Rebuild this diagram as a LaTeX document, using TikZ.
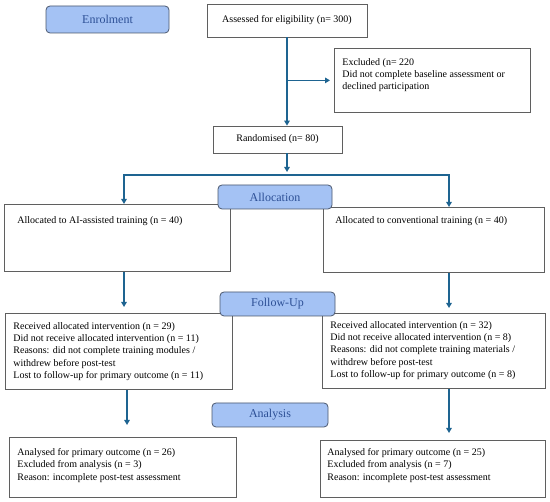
\documentclass[tikz,border=0pt]{standalone}
\usepackage{fontspec}
\setmainfont{Liberation Serif}
\usetikzlibrary{arrows.meta}
\definecolor{arr}{RGB}{30,100,145}
\definecolor{hfill}{RGB}{164,194,244}
\definecolor{hdraw}{RGB}{75,88,110}
\definecolor{htext}{RGB}{45,80,150}
\definecolor{bdraw}{RGB}{95,95,95}
\newcommand{\boxtext}[5]{\parbox[c][#2pt][t]{#1pt}{\leftskip=#3pt\rightskip=0pt plus 1fil\parindent=0pt\vspace*{#4pt}#5\par}}
\begin{document}
\begin{tikzpicture}[x=1pt,y=-1pt,
  every node/.style={font=\fontsize{10}{12.3}\selectfont},
  tbox/.style={draw=bdraw, line width=0.8pt, anchor=north west, inner sep=0pt, fill=white},
  cbox/.style={draw=bdraw, line width=0.8pt, inner sep=0pt, fill=white, align=center},
  head/.style={draw=hdraw, line width=0.8pt, fill=hfill, rounded corners=4pt, text=htext, font=\fontsize{12}{14}\selectfont, inner sep=0pt},
  tip/.style={-{Triangle[length=5pt,width=5.5pt]}},
  link/.style={draw=arr, line width=1.4pt}]
\useasboundingbox[fill=white] (0,0) rectangle (550,502);

% boxes
\node[cbox, minimum width=160, minimum height=33] (assess) at (287,20.5) {Assessed for eligibility (n= 300)};
\node[tbox] (excl) at (334,48) {\boxtext{196}{64}{8}{10}{Excluded (n= 220\\Did not complete baseline assessment or\\declined participation}};
\node[cbox, minimum width=129, minimum height=27] (rand) at (277.5,139.5) {Randomised (n= 80)};
\node[tbox] (allocL) at (4,204) {\boxtext{226}{67}{13}{12}{Allocated to AI-assisted training (n = 40)}};
\node[tbox] (allocR) at (323,207) {\boxtext{221}{65}{12}{9}{Allocated to conventional training (n = 40)}};
\node[tbox] (fuL) at (5,313) {\boxtext{227}{76}{8}{9}{Received allocated intervention (n = 29)\\Did not receive allocated intervention (n = 11)\\Reasons: did not complete training modules /\\withdrew before post-test\\Lost to follow-up for primary outcome (n = 11)}};
\node[tbox] (fuR) at (322,313) {\boxtext{223}{75}{8}{8}{Received allocated intervention (n = 32)\\Did not receive allocated intervention (n = 8)\\Reasons: did not complete training materials /\\withdrew before post-test\\Lost to follow-up for primary outcome (n = 8)}};
\node[tbox] (anL) at (9,437) {\boxtext{227}{60}{8}{11}{Analysed for primary outcome (n = 26)\\Excluded from analysis (n = 3)\\Reason: incomplete post-test assessment}};
\node[tbox] (anR) at (320,440) {\boxtext{225}{57}{7}{8}{Analysed for primary outcome (n = 25)\\Excluded from analysis (n = 7)\\Reason: incomplete post-test assessment}};

% headings
\node[head, minimum width=123, minimum height=27] (enrol) at (107.5,19.5) {Enrolment};
\node[head, minimum width=114, minimum height=24] (allocation) at (275,197) {Allocation};
\node[head, minimum width=115, minimum height=24] (follow) at (277.5,304) {Follow-Up};
\node[head, minimum width=116, minimum height=24] (analysis) at (270,415) {Analysis};

% column coordinates
\coordinate (colL) at (124,0);
\coordinate (colL2) at (127,0);
\coordinate (colR) at (449,0);
\coordinate (split) at (assess.south |- 0,175);

% connectors
\draw[link, tip] (assess.south) -- (assess.south |- rand.north);
\draw[link, tip, shorten >=4pt] (assess.south |- excl.west) -- (excl.west);
\draw[link, tip, shorten >=3pt] (assess.south |- rand.south) -- (split);
\draw[link, {Triangle[length=5pt,width=5.5pt]}-{Triangle[length=5pt,width=5.5pt]}]
  (colL |- allocL.north) -- (colL |- split) -- (colR |- split) -- (colR |- allocR.north);
\draw[link, tip, shorten >=6pt] (colL |- allocL.south) -- (colL |- fuL.north);
\draw[link, tip, shorten >=5pt] (colR |- allocR.south) -- (colR |- fuR.north);
\draw[link, tip, shorten >=12pt] (colL2 |- fuL.south) -- (colL2 |- anL.north);
\draw[link, tip, shorten >=7pt] (colR |- fuR.south) -- (colR |- anR.north);
\end{tikzpicture}
\end{document}
